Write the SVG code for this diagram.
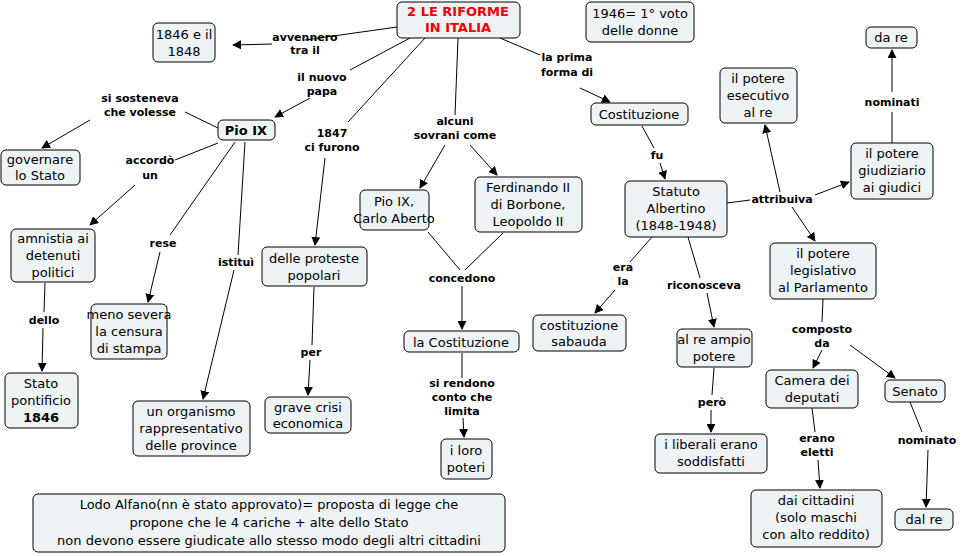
<svg xmlns="http://www.w3.org/2000/svg" width="964" height="556" viewBox="0 0 964 556">
<defs>
<marker id="a" viewBox="0 0 10 10" refX="9" refY="5" markerWidth="9" markerHeight="9" markerUnits="userSpaceOnUse" orient="auto"><path d="M0,0L10,5L0,10z" fill="#000"/></marker>
<style>
.n rect{fill:#eef3f6;stroke:#000;stroke-width:1}
text{font-family:"DejaVu Sans",Verdana,sans-serif;font-size:13px;text-anchor:middle;fill:#000}
.l{font-size:11px;font-weight:bold}
.c line,.c polyline{stroke:#000;stroke-width:1;fill:none}
.c .ar{marker-end:url(#a)}
.lb rect{fill:#fff}
</style>
</defs>
<rect width="964" height="556" fill="#fff"/>
<g class="c">
<line x1="397" y1="27" x2="305" y2="40"/><line class="ar" x1="272" y1="44" x2="233" y2="45"/>
<line x1="410" y1="38" x2="350" y2="70"/><line class="ar" x1="310" y1="98" x2="275" y2="117"/>
<line x1="425" y1="38" x2="348" y2="122"/><line class="ar" x1="325" y1="158" x2="315" y2="245"/>
<line x1="458" y1="38" x2="455" y2="115"/><line class="ar" x1="445" y1="145" x2="420" y2="188"/><line class="ar" x1="470" y1="145" x2="497" y2="175"/>
<line x1="500" y1="38" x2="540" y2="55"/><line class="ar" x1="580" y1="88" x2="610" y2="102"/>
<line x1="218" y1="128" x2="185" y2="112"/><line class="ar" x1="90" y1="120" x2="42" y2="148"/>
<line x1="218" y1="143" x2="175" y2="160"/><line class="ar" x1="135" y1="185" x2="90" y2="225"/>
<line x1="235" y1="142" x2="170" y2="235"/><line class="ar" x1="160" y1="252" x2="148" y2="302"/>
<line x1="245" y1="142" x2="238" y2="255"/><line class="ar" x1="234" y1="270" x2="203" y2="399"/>
<line x1="45" y1="283" x2="44" y2="312"/><line class="ar" x1="43" y1="328" x2="42" y2="371"/>
<line x1="314" y1="287" x2="312" y2="345"/><line class="ar" x1="310" y1="360" x2="308" y2="395"/>
<polyline points="428,232 460,270"/><polyline points="503,233 465,270"/><line class="ar" x1="462" y1="286" x2="462" y2="329"/>
<line x1="462" y1="353" x2="462" y2="378"/><line class="ar" x1="463" y1="418" x2="464" y2="437"/>
<line x1="642" y1="126" x2="654" y2="148"/><line class="ar" x1="660" y1="163" x2="665" y2="179"/>
<line x1="727" y1="203" x2="750" y2="200"/><line class="ar" x1="815" y1="195" x2="849" y2="182"/><line class="ar" x1="780" y1="192" x2="765" y2="125"/><line class="ar" x1="792" y1="207" x2="815" y2="241"/>
<line x1="892" y1="143" x2="892" y2="112"/><line class="ar" x1="892" y1="92" x2="892" y2="50"/>
<line x1="652" y1="237" x2="630" y2="262"/><line class="ar" x1="615" y1="290" x2="595" y2="313"/>
<line x1="688" y1="237" x2="700" y2="278"/><line class="ar" x1="707" y1="293" x2="714" y2="327"/>
<line x1="714" y1="368" x2="712" y2="395"/><line class="ar" x1="711" y1="410" x2="711" y2="432"/>
<line x1="823" y1="299" x2="822" y2="322"/><line class="ar" x1="822" y1="350" x2="813" y2="368"/><line class="ar" x1="850" y1="345" x2="895" y2="378"/>
<line x1="812" y1="408" x2="815" y2="432"/><line class="ar" x1="818" y1="460" x2="820" y2="488"/>
<line x1="910" y1="402" x2="922" y2="432"/><line class="ar" x1="928" y1="450" x2="926" y2="507"/>
</g>
<g class="lb">
<text class="l" x="305" y="41">avvennero</text><text class="l" x="305" y="54">tra il</text>
<text class="l" x="322" y="81">il nuovo</text><text class="l" x="322" y="95">papa</text>
<text class="l" x="332" y="137">1847</text><text class="l" x="332" y="151">ci furono</text>
<text class="l" x="455" y="125">alcuni</text><text class="l" x="455" y="139">sovrani come</text>
<text class="l" x="567" y="61">la prima</text><text class="l" x="567" y="76">forma di</text>
<text class="l" x="140" y="102">si sosteneva</text><text class="l" x="140" y="116">che volesse</text>
<text class="l" x="150" y="164">accordò</text><text class="l" x="150" y="179">un</text>
<text class="l" x="163" y="247">rese</text>
<text class="l" x="236" y="266">istituì</text>
<text class="l" x="44" y="324">dello</text>
<text class="l" x="311" y="356">per</text>
<text class="l" x="462" y="282">concedono</text>
<text class="l" x="462" y="387">si rendono</text><text class="l" x="462" y="401">conto che</text><text class="l" x="462" y="415">limita</text>
<text class="l" x="657" y="159">fu</text>
<text class="l" x="782" y="203">attribuiva</text>
<text class="l" x="892" y="106">nominati</text>
<text class="l" x="623" y="271">era</text><text class="l" x="623" y="285">la</text>
<text class="l" x="704" y="289">riconosceva</text>
<text class="l" x="712" y="406">però</text>
<text class="l" x="822" y="333">composto</text><text class="l" x="822" y="347">da</text>
<text class="l" x="817" y="442">erano</text><text class="l" x="817" y="456">eletti</text>
<text class="l" x="927" y="444">nominato</text>
</g>
<g id="title" class="n"><rect x="397" y="2" width="123" height="36" rx="5"/><text x="458" y="16" font-weight="bold" fill="#e00" style="fill:#e00">2 LE RIFORME</text><text x="458" y="32" font-weight="bold" style="fill:#e00">IN ITALIA</text></g>
<g id="n1846" class="n"><rect x="153" y="23" width="62" height="39" rx="5"/><text x="184" y="39">1846 e il</text><text x="184" y="56">1848</text></g>
<g id="voto" class="n"><rect x="586" y="2" width="108" height="40" rx="5"/><text x="640" y="18">1946= 1° voto</text><text x="640" y="35">delle donne</text></g>
<g id="dare" class="n"><rect x="866" y="27" width="51" height="21" rx="5"/><text x="891" y="42">da re</text></g>
<g id="pio" class="n"><rect x="218" y="120" width="57" height="20" rx="5"/><text x="246" y="135" font-weight="bold">Pio IX</text></g>
<g id="gov" class="n"><rect x="1" y="150" width="79" height="35" rx="5"/><text x="40" y="164">governare</text><text x="40" y="180">lo Stato</text></g>
<g id="esec" class="n"><rect x="720" y="68" width="77" height="55" rx="5"/><text x="758" y="83">il potere</text><text x="758" y="100">esecutivo</text><text x="758" y="117">al re</text></g>
<g id="cost" class="n"><rect x="591" y="103" width="97" height="22" rx="5"/><text x="639" y="119">Costituzione</text></g>
<g id="giud" class="n"><rect x="851" y="143" width="82" height="56" rx="5"/><text x="892" y="158">il potere</text><text x="892" y="175">giudiziario</text><text x="892" y="192">ai giudici</text></g>
<g id="pioc" class="n"><rect x="360" y="190" width="69" height="40" rx="5"/><text x="394" y="206">Pio IX,</text><text x="394" y="223">Carlo Aberto</text></g>
<g id="ferd" class="n"><rect x="475" y="177" width="107" height="55" rx="5"/><text x="528" y="192">Ferdinando II</text><text x="528" y="209">di Borbone,</text><text x="528" y="226">Leopoldo II</text></g>
<g id="stat" class="n"><rect x="625" y="181" width="102" height="56" rx="5"/><text x="676" y="196">Statuto</text><text x="676" y="213">Albertino</text><text x="676" y="230">(1848-1948)</text></g>
<g id="amn" class="n"><rect x="11" y="229" width="84" height="53" rx="5"/><text x="53" y="243">amnistia ai</text><text x="53" y="260">detenuti</text><text x="53" y="277">politici</text></g>
<g id="prot" class="n"><rect x="262" y="247" width="105" height="39" rx="5"/><text x="314" y="263">delle proteste</text><text x="314" y="280">popolari</text></g>
<g id="legi" class="n"><rect x="770" y="243" width="106" height="56" rx="5"/><text x="823" y="258">il potere</text><text x="823" y="275">legislativo</text><text x="823" y="292">al Parlamento</text></g>
<g id="cens" class="n"><rect x="91" y="304" width="76" height="55" rx="5"/><text x="129" y="319">meno severa</text><text x="129" y="336">la censura</text><text x="129" y="353">di stampa</text></g>
<g id="sab" class="n"><rect x="533" y="315" width="93" height="36" rx="5"/><text x="579" y="330">costituzione</text><text x="579" y="346">sabauda</text></g>
<g id="lacost" class="n"><rect x="404" y="331" width="115" height="21" rx="5"/><text x="461" y="347">la Costituzione</text></g>
<g id="ampio" class="n"><rect x="677" y="329" width="75" height="38" rx="5"/><text x="714" y="344">al re ampio</text><text x="714" y="361">potere</text></g>
<g id="stpon" class="n"><rect x="5" y="373" width="73" height="55" rx="5"/><text x="41" y="388">Stato</text><text x="41" y="405">pontificio</text><text x="41" y="422" font-weight="bold">1846</text></g>
<g id="camera" class="n"><rect x="766" y="370" width="92" height="38" rx="5"/><text x="812" y="385">Camera dei</text><text x="812" y="402">deputati</text></g>
<g id="senato" class="n"><rect x="885" y="380" width="60" height="22" rx="5"/><text x="915" y="396">Senato</text></g>
<g id="org" class="n"><rect x="133" y="401" width="117" height="55" rx="5"/><text x="191" y="416">un organismo</text><text x="191" y="433">rappresentativo</text><text x="191" y="450">delle province</text></g>
<g id="crisi" class="n"><rect x="265" y="397" width="86" height="36" rx="5"/><text x="308" y="412">grave crisi</text><text x="308" y="428">economica</text></g>
<g id="poteri" class="n"><rect x="441" y="439" width="51" height="40" rx="5"/><text x="466" y="455">i loro</text><text x="466" y="472">poteri</text></g>
<g id="lib" class="n"><rect x="655" y="434" width="112" height="39" rx="5"/><text x="711" y="449">i liberali erano</text><text x="711" y="466">soddisfatti</text></g>
<g id="citt" class="n"><rect x="751" y="490" width="131" height="57" rx="5"/><text x="816" y="505">dai cittadini</text><text x="816" y="522">(solo maschi</text><text x="816" y="539">con alto reddito)</text></g>
<g id="dalre" class="n"><rect x="895" y="509" width="58" height="21" rx="5"/><text x="924" y="524">dal re</text></g>
<g id="lodo" class="n"><rect x="33" y="494" width="472" height="58" rx="5"/><text x="269" y="509">Lodo Alfano(nn è stato approvato)= proposta di legge che</text><text x="269" y="527">propone che le 4 cariche + alte dello Stato</text><text x="269" y="545">non devono essere  giudicate allo stesso modo degli altri cittadini</text></g>
</svg>
